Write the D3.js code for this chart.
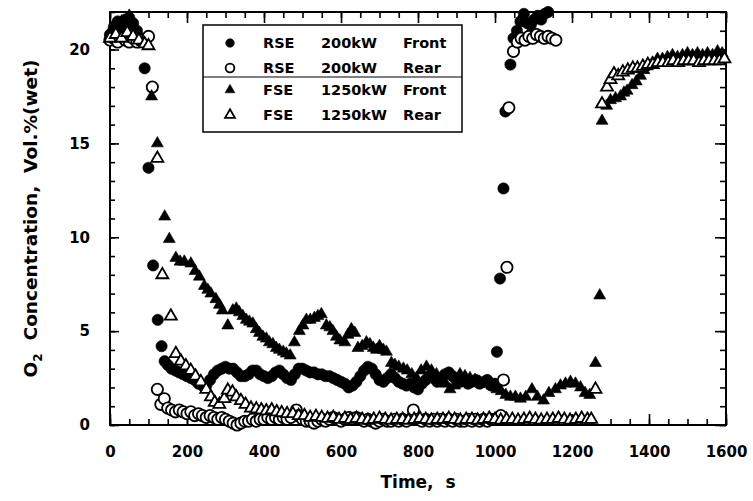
<!DOCTYPE html>
<html>
<head>
<meta charset="utf-8">
<script src="https://cdn.jsdelivr.net/npm/d3@7"></script>
<style>
  body { margin: 0; background: #fff; }
  svg text { font-family: "DejaVu Sans", sans-serif; font-weight: bold; fill: #000; }
</style>
</head>
<body>
<svg id="chart" width="753" height="501"></svg>
<script>

// [time s, O2 vol.%]
const rseFront = [
  [0,20.8],[10,21.2],[20,21.5],[30,21.3],[40,21.6],[50,21.7],[60,21.4],[70,21.0],[80,20.6],[90,19.0],
  [100,13.7],[112,8.5],[124,5.6],[134,4.2],[142,3.4],[150,3.2],[160,3.0],[170,2.9],[180,2.8],[190,2.7],
  [200,2.6],[210,2.5],[220,2.4],[230,2.2],[240,2.1],[250,2.1],[260,2.4],[270,2.7],[280,2.9],[290,3.0],
  [300,3.1],[310,3.0],[320,3.0],[330,2.8],[340,2.6],[350,2.6],[360,2.7],[370,2.9],[380,2.9],[390,2.7],
  [400,2.6],[410,2.5],[420,2.6],[430,2.8],[440,2.9],[450,2.7],[460,2.5],[470,2.4],[480,2.7],[490,3.0],
  [500,3.0],[510,2.9],[520,2.8],[530,2.8],[540,2.7],[550,2.7],[560,2.6],[570,2.6],[580,2.5],[590,2.4],
  [600,2.3],[610,2.2],[620,2.0],[630,2.1],[640,2.3],[650,2.6],[660,2.9],[670,3.1],[680,3.0],[690,2.7],
  [700,2.4],[710,2.3],[720,2.5],[730,2.7],[740,2.5],[750,2.3],[760,2.2],[770,2.1],[780,2.2],[790,2.0],
  [800,1.9],[810,2.2],[820,2.4],[830,2.6],[840,2.5],[850,2.3],[860,2.5],[870,2.7],[880,2.8],[890,2.6],
  [900,2.4],[910,2.3],[920,2.4],[930,2.2],[940,2.3],[950,2.4],[960,2.2],[970,2.3],[980,2.4],[990,2.1],
  [1000,2.2],[1005,3.9],[1013,7.8],[1022,12.6],[1027,16.7],[1040,19.2],[1048,20.6],[1057,21.0],[1066,21.5],[1075,21.9],
  [1084,21.4],[1093,21.3],[1102,21.6],[1111,21.8],[1120,21.6],[1129,21.9],[1138,22.0]
];

const rseRear = [
  [0,20.5],[10,20.6],[20,20.4],[30,20.7],[40,20.5],[50,20.4],[60,20.6],[70,20.4],[80,20.5],[90,20.4],
  [100,20.7],[110,18.0],[123,1.9],[132,1.1],[141,1.4],[150,0.9],[160,0.8],[170,0.7],[180,0.8],[190,0.7],
  [200,0.6],[210,0.7],[220,0.5],[230,0.6],[240,0.5],[250,0.4],[260,0.5],[270,0.4],[280,0.3],[290,0.4],
  [300,0.3],[310,0.2],[320,0.1],[330,0.0],[340,0.1],[350,0.2],[360,0.2],[370,0.3],[380,0.2],[390,0.3],
  [400,0.3],[410,0.4],[420,0.3],[430,0.4],[440,0.3],[450,0.4],[460,0.3],[470,0.4],[484,0.8],[490,0.5],
  [500,0.3],[510,0.2],[520,0.2],[530,0.1],[540,0.2],[550,0.3],[560,0.2],[570,0.3],[580,0.4],[590,0.3],
  [600,0.2],[610,0.3],[620,0.4],[630,0.3],[640,0.4],[650,0.3],[660,0.2],[670,0.3],[680,0.2],[690,0.1],
  [700,0.2],[710,0.3],[720,0.2],[730,0.2],[740,0.3],[750,0.2],[760,0.3],[770,0.2],[788,0.8],[800,0.3],
  [810,0.2],[820,0.3],[830,0.2],[840,0.3],[850,0.2],[860,0.3],[870,0.2],[880,0.3],[890,0.2],[900,0.3],
  [910,0.2],[920,0.2],[930,0.3],[940,0.2],[950,0.3],[960,0.2],[970,0.3],[980,0.2],[990,0.3],[1000,0.3],
  [1015,0.5],[1022,2.4],[1031,8.4],[1036,16.9],[1048,19.9],[1058,20.4],[1068,20.6],[1078,20.5],[1088,20.7],[1098,20.6],
  [1108,20.8],[1118,20.7],[1128,20.6],[1138,20.7],[1148,20.6],[1158,20.5]
];

const fseFront = [
  [0,20.9],[10,21.3],[20,21.1],[30,21.5],[40,21.4],[50,21.8],[60,21.2],[70,21.0],[84,20.4],[108,17.5],
  [123,15.0],[142,11.1],[154,9.9],[171,8.9],[182,8.7],[193,8.7],[210,8.6],[221,8.2],[232,7.9],[245,7.4],
  [254,7.2],[262,7.0],[275,6.7],[284,6.4],[292,6.1],[306,5.3],[319,6.1],[328,6.2],[336,6.0],[345,5.8],
  [354,5.6],[362,5.5],[371,5.4],[380,5.1],[388,4.9],[397,4.7],[406,4.6],[414,4.4],[423,4.3],[432,4.1],
  [440,4.0],[450,3.9],[458,3.8],[468,3.7],[479,4.4],[492,5.0],[501,5.3],[510,5.6],[520,5.6],[531,5.7],
  [540,5.8],[549,5.9],[562,5.3],[571,5.2],[579,5.0],[588,4.7],[597,4.5],[610,4.4],[618,4.8],[627,5.1],
  [636,4.9],[644,4.1],[655,4.2],[666,4.4],[675,4.3],[684,4.1],[692,4.0],[700,4.2],[710,4.0],[718,3.9],
  [731,3.3],[740,3.2],[750,3.1],[762,3.0],[772,2.9],[784,2.7],[796,2.5],[808,2.9],[822,3.1],[835,2.9],
  [848,2.7],[860,2.5],[872,2.2],[883,1.9],[895,2.1],[909,2.7],[922,2.6],[935,2.5],[948,2.4],[960,2.3],
  [970,2.2],[980,2.3],[992,2.1],[1005,1.9],[1016,1.8],[1028,1.6],[1040,1.5],[1053,1.5],[1066,1.4],[1080,1.5],
  [1096,1.9],[1110,1.5],[1126,1.3],[1140,1.7],[1157,1.9],[1170,2.1],[1183,2.2],[1196,2.3],[1209,2.2],[1222,2.0],
  [1234,1.7],[1246,1.6],[1261,3.3],[1272,6.9],[1278,16.2],[1290,17.0],[1300,17.3],[1313,17.4],[1326,17.5],[1335,17.7],
  [1343,17.8],[1356,18.1],[1367,18.3],[1378,18.6],[1387,18.9],[1396,19.1],[1409,19.3],[1422,19.5],[1435,19.5],[1448,19.6],
  [1461,19.7],[1474,19.6],[1487,19.7],[1500,19.8],[1513,19.7],[1526,19.8],[1539,19.7],[1552,19.8],[1565,19.7],[1578,19.9],
  [1590,19.8]
];

const fseRear = [
  [0,20.6],[15,20.8],[30,20.6],[45,20.9],[60,20.7],[75,20.5],[90,20.3],[100,20.2],[123,14.2],[136,8.0],
  [158,5.8],[171,3.8],[184,3.4],[197,3.15],[210,2.9],[222,2.6],[236,2.3],[250,1.9],[262,1.5],[272,1.2],
  [284,1.1],[297,1.4],[306,1.85],[318,1.75],[328,1.5],[340,1.3],[352,1.1],[366,0.9],[380,0.85],[393,0.8],
  [406,0.75],[420,0.8],[433,0.7],[446,0.65],[460,0.6],[475,0.6],[490,0.5],[505,0.5],[520,0.4],[535,0.45],
  [550,0.4],[565,0.35],[580,0.4],[595,0.3],[610,0.35],[625,0.3],[640,0.35],[655,0.3],[670,0.25],[685,0.3],
  [700,0.35],[715,0.3],[730,0.25],[745,0.3],[760,0.3],[775,0.25],[790,0.3],[805,0.35],[820,0.3],[835,0.25],
  [850,0.3],[865,0.3],[880,0.35],[895,0.3],[910,0.25],[925,0.3],[940,0.3],[955,0.25],[970,0.3],[985,0.35],
  [1000,0.3],[1015,0.25],[1030,0.3],[1045,0.3],[1060,0.25],[1075,0.3],[1090,0.35],[1105,0.3],[1120,0.25],[1135,0.3],
  [1150,0.3],[1165,0.35],[1180,0.3],[1195,0.25],[1210,0.3],[1225,0.35],[1240,0.3],[1250,0.3],[1261,1.9],[1278,17.1],
  [1291,18.0],[1300,18.4],[1309,18.7],[1320,18.6],[1332,18.8],[1345,18.9],[1358,19.0],[1370,19.0],[1384,19.1],[1397,19.2],
  [1410,19.2],[1423,19.3],[1436,19.3],[1450,19.3],[1463,19.4],[1476,19.3],[1490,19.4],[1503,19.4],[1516,19.4],[1530,19.3],
  [1543,19.4],[1556,19.4],[1570,19.4],[1583,19.4],[1596,19.5]
];

const seriesLabels = ["RSE  200kW  Front", "RSE  200kW  Rear", "FSE  1250kW  Front", "FSE  1250kW  Rear"];
const xTicks = [0, 200, 400, 600, 800, 1000, 1200, 1400, 1600];
const xMinorTicks = d3.range(0, 1601, 50);
const yTicks = [0, 5, 10, 15, 20];
const yMinorTicks = d3.range(0, 23, 1);

const svg = d3.select("#chart");
const width = 753;
const height = 501;
const margin = { top: 12, right: 27, bottom: 76, left: 110 };

const x = d3.scaleLinear()
  .domain([0, 1600])
  .range([margin.left, width - margin.right]);

const y = d3.scaleLinear()
  .domain([0, 22])
  .range([height - margin.bottom, margin.top]);

svg.append("rect").attr("width", width).attr("height", height).attr("fill", "#fff");

function styleAxis(g) {
  g.select(".domain").remove();
  g.selectAll("line").attr("stroke", "#000").attr("stroke-width", 1.6);
  g.selectAll("text")
    .attr("font-family", "DejaVu Sans, sans-serif")
    .attr("font-weight", "bold")
    .attr("font-size", "15px")
    .attr("fill", "#000");
}

const y0 = height - margin.bottom;
const xR = width - margin.right;

// bottom axis, major + minor, ticks pointing in
svg.append("g")
  .attr("transform", `translate(0,${y0})`)
  .call(d3.axisBottom(x).tickValues(xMinorTicks).tickSize(-6).tickFormat(""))
  .call(styleAxis);
svg.append("g")
  .attr("transform", `translate(0,${y0})`)
  .call(d3.axisBottom(x).tickValues(xTicks).tickSize(-11).tickPadding(21).tickFormat(d3.format("d")))
  .call(styleAxis);

// top mirror ticks
svg.append("g")
  .attr("transform", `translate(0,${margin.top})`)
  .call(d3.axisTop(x).tickValues(xMinorTicks).tickSize(-6).tickFormat(""))
  .call(styleAxis);
svg.append("g")
  .attr("transform", `translate(0,${margin.top})`)
  .call(d3.axisTop(x).tickValues(xTicks).tickSize(-11).tickFormat(""))
  .call(styleAxis);

// left axis
svg.append("g")
  .attr("transform", `translate(${margin.left},0)`)
  .call(d3.axisLeft(y).tickValues(yMinorTicks).tickSize(-5).tickFormat(""))
  .call(styleAxis);
svg.append("g")
  .attr("transform", `translate(${margin.left},0)`)
  .call(d3.axisLeft(y).tickValues(yTicks).tickSize(-9).tickPadding(20).tickFormat(d3.format("d")))
  .call(styleAxis);

// right mirror ticks
svg.append("g")
  .attr("transform", `translate(${xR},0)`)
  .call(d3.axisRight(y).tickValues(yMinorTicks).tickSize(-6).tickFormat(""))
  .call(styleAxis);
svg.append("g")
  .attr("transform", `translate(${xR},0)`)
  .call(d3.axisRight(y).tickValues(yTicks).tickSize(-11).tickFormat(""))
  .call(styleAxis);

// frame
svg.append("rect")
  .attr("x", margin.left)
  .attr("y", margin.top)
  .attr("width", xR - margin.left)
  .attr("height", y0 - margin.top)
  .attr("fill", "none")
  .attr("stroke", "#000")
  .attr("stroke-width", 2);

// markers
const circlePath = d3.symbol().type(d3.symbolCircle).size(100)();
const trianglePath = d3.symbol().type(d3.symbolTriangle).size(62)();

const series = [
  { data: rseFront, path: circlePath, open: false },
  { data: rseRear, path: circlePath, open: true },
  { data: fseFront, path: trianglePath, open: false },
  { data: fseRear, path: trianglePath, open: true }
];

series.forEach(s => {
  svg.append("g")
    .selectAll("path")
    .data(s.data)
    .enter()
    .append("path")
    .attr("d", s.path)
    .attr("transform", d => `translate(${x(d[0])},${y(d[1])})`)
    .attr("fill", s.open ? "#fff" : "#000")
    .attr("stroke", "#000")
    .attr("stroke-width", s.open ? 1.8 : 0.6);
});

// axis titles
svg.append("text")
  .attr("x", (margin.left + xR) / 2)
  .attr("y", 488)
  .attr("text-anchor", "middle")
  .attr("font-size", "17px")
  .style("white-space", "pre")
  .text("Time,  s");

const yTitle = svg.append("text")
  .attr("transform", `translate(37,${(margin.top + y0) / 2}) rotate(-90)`)
  .attr("text-anchor", "middle")
  .attr("font-size", "18.5px")
  .style("white-space", "pre");
yTitle.append("tspan").text("O");
yTitle.append("tspan").attr("font-size", "12px").attr("dy", 5).text("2");
yTitle.append("tspan").attr("dy", -5).text("  Concentration,  Vol.%(wet)");

// legend
const legend = svg.append("g");
legend.append("rect")
  .attr("x", 203).attr("y", 25)
  .attr("width", 259).attr("height", 107)
  .attr("fill", "#fff")
  .attr("stroke", "#000")
  .attr("stroke-width", 1.5);
legend.append("line")
  .attr("x1", 203).attr("x2", 462)
  .attr("y1", 77).attr("y2", 77)
  .attr("stroke", "#000")
  .attr("stroke-width", 1.2);

const rowY = [43, 68, 90, 115];
const colX = [263, 321, 403];
const smallCircle = d3.symbol().type(d3.symbolCircle).size(60)();
const smallTriangle = d3.symbol().type(d3.symbolTriangle).size(42)();

seriesLabels.forEach((label, i) => {
  const s = series[i];
  legend.append("path")
    .attr("d", s.path === circlePath ? smallCircle : smallTriangle)
    .attr("transform", `translate(230,${rowY[i]})`)
    .attr("fill", s.open ? "#fff" : "#000")
    .attr("stroke", "#000")
    .attr("stroke-width", s.open ? 1.8 : 0.5);
  label.split("  ").forEach((word, j) => {
    legend.append("text")
      .attr("x", colX[j])
      .attr("y", rowY[i] + 5)
      .attr("font-size", "14.5px")
      .text(word);
  });
});

</script>
</body>
</html>
